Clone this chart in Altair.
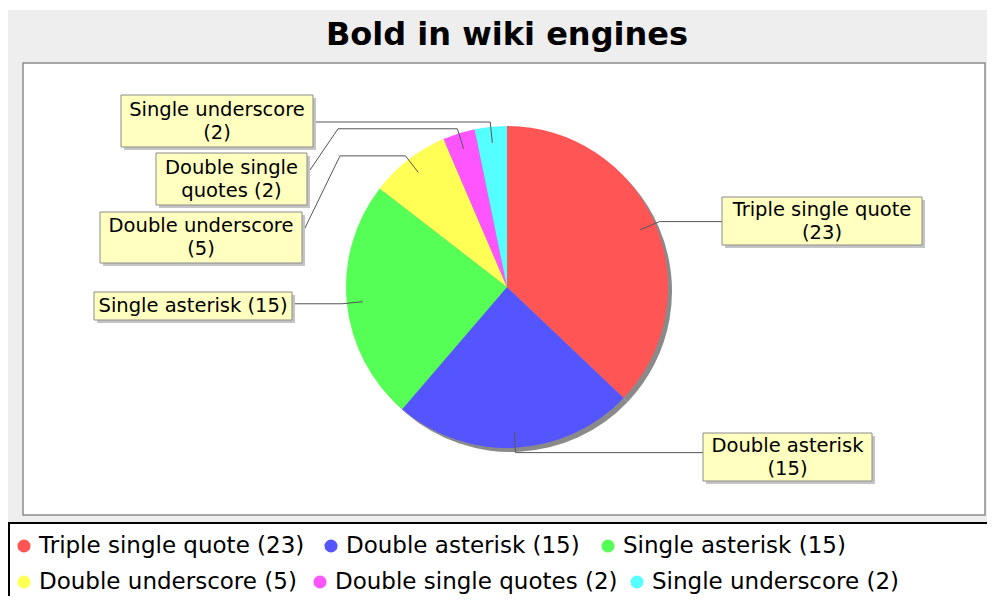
import math
import altair as alt
import pandas as pd

# ---------------- data ----------------
categories = ["Triple single quote", "Double asterisk", "Single asterisk",
              "Double underscore", "Double single quotes", "Single underscore"]
values = [23, 15, 15, 5, 2, 2]
colors = ["#FF5555", "#5555FF", "#55FF55", "#FFFF55", "#FF55FF", "#55FFFF"]
title_text = "Bold in wiki engines"
label_lines = [["Triple single quote", "(23)"],
               ["Double asterisk", "(15)"],
               ["Single asterisk (15)"],
               ["Double underscore", "(5)"],
               ["Double single", "quotes (2)"],
               ["Single underscore", "(2)"]]
legend_texts = [f"{c} ({v})" for c, v in zip(categories, values)]

# ---------------- layout (reference pixel coordinates) ----------------
W, H = 979, 588
CX, CY, R = 507, 287, 161
# label boxes: x0, y0, x1, y1
boxes = [(722, 197, 922, 245),
         (703, 433, 872, 481),
         (94, 292, 292, 320),
         (100, 212, 302, 263),
         (156, 153, 307, 205),
         (121, 95, 313, 147)]
# attachment point on the box and extra bends for each link
box_links = [[(722, None)],
             [(703, None)],
             [(292, None)],
             [(340, None), (303, 232)],
             [(338, None), (310, 170)],
             [(313, None)]]
legend_pos = [(24, 546), (331, 546), (608, 546),
              (24, 582), (320, 582), (637, 582)]

xs = alt.Scale(domain=[8, 8 + W], nice=False, zero=False)
ys = alt.Scale(domain=[8, 8 + H], nice=False, zero=False, reverse=True)


def X(f="x"):
    return alt.X(f"{f}:Q", scale=xs, axis=None)


def Y(f="y"):
    return alt.Y(f"{f}:Q", scale=ys, axis=None)


color_scale = alt.Scale(domain=categories, range=colors)

# ---------------- frames ----------------
bg = alt.Chart(pd.DataFrame([dict(x=0, x2=1000, y=10, y2=523)])).mark_rect(
    color="#EEEEEE").encode(x=X(), x2="x2:Q", y=Y(), y2="y2:Q")

plot_box = alt.Chart(pd.DataFrame([dict(x=23, x2=985, y=63, y2=515)])).mark_rect(
    fill="white", stroke="#8C8C8C", strokeWidth=1.5).encode(
    x=X(), x2="x2:Q", y=Y(), y2="y2:Q")

legend_box = alt.Chart(pd.DataFrame([dict(x=9, x2=1000, y=523, y2=640)])).mark_rect(
    fill="white", stroke="black", strokeWidth=2).encode(
    x=X(), x2="x2:Q", y=Y(), y2="y2:Q")

title = alt.Chart(pd.DataFrame([dict(x=507, y=35, t=title_text)])).mark_text(
    font="DejaVu Sans", fontWeight="bold", fontSize=32, color="black",
    align="center", baseline="middle").encode(x=X(), y=Y(), text="t:N")

# ---------------- pie ----------------
pie_df = pd.DataFrame({"name": categories, "value": values,
                       "idx": list(range(len(values)))})
shadow = alt.Chart(pie_df).mark_arc(radius=R, color="#8A8A8A").encode(
    theta=alt.Theta("value:Q", stack=True),
    order=alt.Order("idx:Q"),
    x=alt.value(CX + 4 - 8), y=alt.value(CY + 4 - 8))
pie = alt.Chart(pie_df).mark_arc(radius=R).encode(
    theta=alt.Theta("value:Q", stack=True),
    color=alt.Color("name:N", scale=color_scale, legend=None),
    order=alt.Order("idx:Q"),
    x=alt.value(CX - 8), y=alt.value(CY - 8))

# ---------------- label links ----------------
total = sum(values)
rows = []
cum = 0
for i, v in enumerate(values):
    mid = (cum + v / 2) / total * 2 * math.pi
    cum += v
    sx, sy = math.sin(mid), -math.cos(mid)
    inner = (CX + 0.9 * R * sx, CY + 0.9 * R * sy)
    elbow = (CX + 1.03 * R * sx, CY + 1.03 * R * sy)
    pts = [inner, elbow]
    for (bx, by) in box_links[i]:
        pts.append((bx, elbow[1] if by is None else by))
    for k, (px, py) in enumerate(pts):
        rows.append(dict(s=i, o=k, x=px, y=py))
links = alt.Chart(pd.DataFrame(rows)).mark_line(
    color="#555555", strokeWidth=1).encode(
    x=X(), y=Y(), detail="s:N", order="o:Q")

# ---------------- label boxes ----------------
box_df = pd.DataFrame([dict(x=b[0], y=b[1], x2=b[2], y2=b[3]) for b in boxes])
box_sh_df = pd.DataFrame([dict(x=b[0] + 3, y=b[1] + 3, x2=b[2] + 3, y2=b[3] + 3)
                          for b in boxes])
box_shadow = alt.Chart(box_sh_df).mark_rect(color="#C4C4C4").encode(
    x=X(), x2="x2:Q", y=Y(), y2="y2:Q")
box_rect = alt.Chart(box_df).mark_rect(
    fill="#FFFFC0", stroke="#8C8C8C", strokeWidth=1).encode(
    x=X(), x2="x2:Q", y=Y(), y2="y2:Q")

trows = []
for b, lines in zip(boxes, label_lines):
    cxb = (b[0] + b[2]) / 2
    cyb = (b[1] + b[3]) / 2
    n = len(lines)
    for j, t in enumerate(lines):
        trows.append(dict(x=cxb, y=cyb + (j - (n - 1) / 2) * 23, t=t))
box_text = alt.Chart(pd.DataFrame(trows)).mark_text(
    font="DejaVu Sans", fontSize=19.5, color="black",
    align="center", baseline="middle").encode(x=X(), y=Y(), text="t:N")

# ---------------- legend ----------------
leg_df = pd.DataFrame({"name": categories, "t": legend_texts,
                       "x": [p[0] for p in legend_pos],
                       "y": [p[1] for p in legend_pos]})
leg_df["tx"] = leg_df["x"] + 15
leg_dots = alt.Chart(leg_df).mark_point(
    shape="circle", filled=True, size=170, opacity=1).encode(
    x=X(), y=Y(), color=alt.Color("name:N", scale=color_scale, legend=None))
leg_text = alt.Chart(leg_df).mark_text(
    font="DejaVu Sans", fontSize=23, color="black",
    align="left", baseline="middle").encode(x=X("tx"), y=Y(), text="t:N")

chart = alt.layer(bg, plot_box, legend_box, title, shadow, pie, links,
                  box_shadow, box_rect, box_text, leg_dots, leg_text).properties(
    width=W, height=H, padding=0, autosize=alt.AutoSizeParams(type="none"),
    background="white"
).configure_view(stroke=None)

chart.save("out.html", embed_options={"renderer": "svg", "actions": False})
